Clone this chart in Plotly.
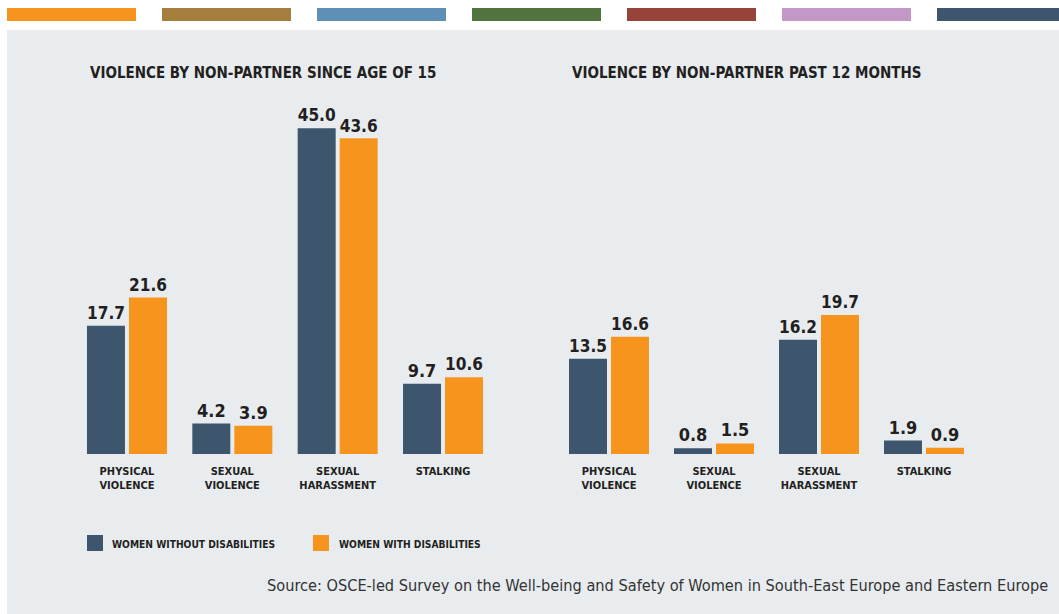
import plotly.graph_objects as go

categories = ["PHYSICAL<br>VIOLENCE", "SEXUAL<br>VIOLENCE", "SEXUAL<br>HARASSMENT", "STALKING"]
since15_without = [17.7, 4.2, 45.0, 9.7]
since15_with = [21.6, 3.9, 43.6, 10.6]
past12_without = [13.5, 0.8, 16.2, 1.9]
past12_with = [16.6, 1.5, 19.7, 0.9]
series_names = ["WOMEN WITHOUT DISABILITIES", "WOMEN WITH DISABILITIES"]
titles = ["VIOLENCE BY NON-PARTNER SINCE AGE OF 15", "VIOLENCE BY NON-PARTNER PAST 12 MONTHS"]
source = "Source: OSCE-led Survey on the Well-being and Safety of Women in South-East Europe and Eastern Europe"
strip_colors = ["#f7941d", "#a57d3c", "#5e8fb6", "#507340", "#96443a", "#c397c6", "#3d566e"]

W, H = 1059, 614
DARK = "#3d566e"
ORANGE = "#f7941d"
TXT = "#231f20"
BG = "#e8ecef"
BOLD = "DejaVu Sans Condensed, Liberation Sans Narrow, sans-serif"

def px(x):
    return x / W

def py(y):
    return 1 - y / H

fig = go.Figure()

def add_pair(a, b, xa, ya, unit):
    bw = 38 / unit
    for vals, col, off in [(a, DARK, -(38 + 2) / unit), (b, ORANGE, 2 / unit)]:
        fig.add_trace(go.Bar(
            x=list(range(len(categories))), y=vals, xaxis=xa, yaxis=ya,
            marker=dict(color=col, line=dict(width=0)),
            width=bw, offset=off,
            text=[f"{v:.1f}" for v in vals], texttemplate="<b>%{text}</b>",
            textposition="outside",
            textfont=dict(family=BOLD, size=18, color=TXT),
            cliponaxis=False, showlegend=False, hoverinfo="y",
        ))

add_pair(since15_without, since15_with, "x", "y", 105.33)
add_pair(past12_without, past12_with, "x2", "y2", 105.0)

base = 454
top = 100
axis_common = dict(
    tickmode="array", tickvals=list(range(len(categories))),
    ticktext=[f"<b>{c}</b>" for c in categories],
    tickfont=dict(family=BOLD, size=11, color=TXT), showgrid=False, zeroline=False,
    showline=False, ticks="", range=[-0.5, 3.5], fixedrange=True, ticklabelstandoff=9,
)
fig.update_layout(
    xaxis=dict(domain=[px(74.3), px(495.7)], anchor="y", **axis_common),
    xaxis2=dict(domain=[px(556.5), px(976.5)], anchor="y2", **axis_common),
    yaxis=dict(domain=[py(base), py(top)], range=[0, (base - top) / 7.24], visible=False, fixedrange=True),
    yaxis2=dict(domain=[py(base), py(top)], range=[0, (base - top) / 7.06], visible=False, anchor="x2", fixedrange=True),
)

shapes = []
shapes.append(dict(type="rect", xref="paper", yref="paper", x0=px(7), x1=1, y0=0, y1=py(30),
                   fillcolor=BG, line=dict(width=0), layer="below"))
strip_x = [7, 162, 317, 472, 627, 782, 937]
for sx, c in zip(strip_x, strip_colors):
    shapes.append(dict(type="rect", xref="paper", yref="paper", x0=px(sx), x1=px(min(sx + 129, W)),
                       y0=py(21), y1=py(8), fillcolor=c, line=dict(width=0)))
for lx, c in [(87, DARK), (313, ORANGE)]:
    shapes.append(dict(type="rect", xref="paper", yref="paper", x0=px(lx), x1=px(lx + 16),
                       y0=py(551), y1=py(535), fillcolor=c, line=dict(width=0)))

annotations = []
for tx, t in [(88, titles[0]), (570, titles[1])]:
    annotations.append(dict(text=f"<b>{t}</b>", xref="paper", yref="paper", x=px(tx), y=py(73),
                            xanchor="left", yanchor="middle", showarrow=False,
                            font=dict(family=BOLD, size=15, color=TXT)))
for lx, n in [(110, series_names[0]), (337, series_names[1])]:
    annotations.append(dict(text=f"<b>{n}</b>", xref="paper", yref="paper", x=px(lx), y=py(544),
                            xanchor="left", yanchor="middle", showarrow=False,
                            font=dict(family=BOLD, size=10.2, color=TXT)))
annotations.append(dict(text=source, xref="paper", yref="paper", x=px(1050), y=py(585),
                        xanchor="right", yanchor="middle", showarrow=False,
                        font=dict(family=BOLD, size=16.2, color="#333333")))

fig.update_layout(
    width=W, height=H, margin=dict(l=0, r=0, t=0, b=0),
    paper_bgcolor="white", plot_bgcolor="rgba(0,0,0,0)",
    shapes=shapes, annotations=annotations, barmode="overlay",
    font=dict(family=BOLD, color=TXT),
)

fig.write_html("out.html", config={"displayModeBar": False},
               post_script="document.body.style.margin='0';document.body.style.padding='0';")
